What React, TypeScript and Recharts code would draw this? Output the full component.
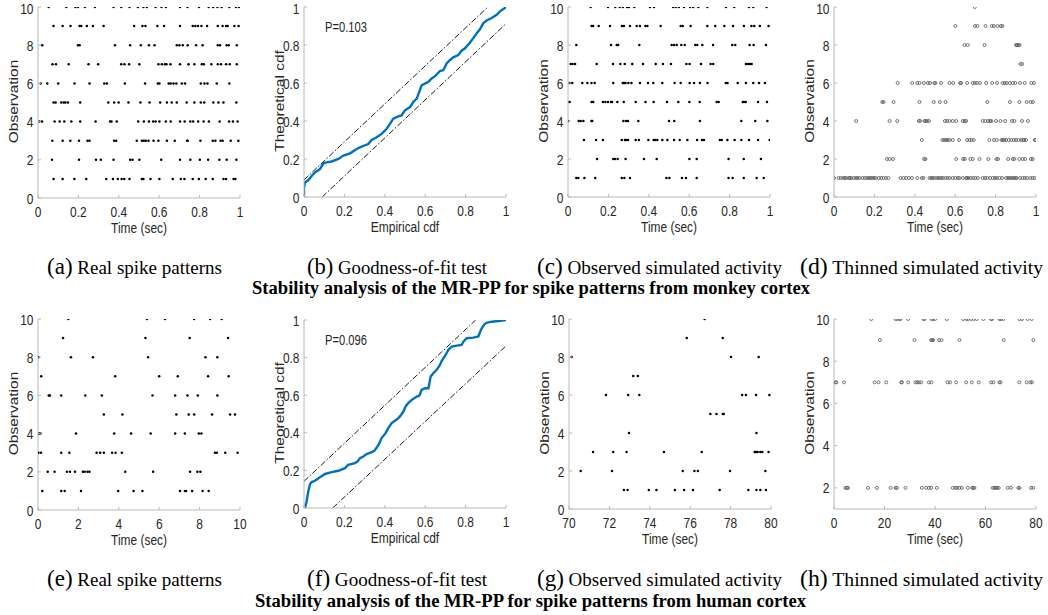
import React from 'react';
import { ScatterChart, Scatter, XAxis, YAxis, ComposedChart, Line } from 'recharts';

// ---------------- DATA ----------------
const unitTicks = [0, 0.2, 0.4, 0.6, 0.8, 1];
const obsTicks = [0, 2, 4, 6, 8, 10];
const obsTicksThinnedHuman = [2, 4, 6, 8, 10];
const humanRealTicks = [0, 2, 4, 6, 8, 10];
const humanObservedTicks = [70, 72, 74, 76, 78, 80];
const humanThinnedTicks = [0, 20, 40, 60, 80];

// (a) monkey real spikes, rows = observation 1..10
const monkeyRealSpikes: number[][] = [
  [0.077, 0.122, 0.18, 0.239, 0.338, 0.371, 0.395, 0.414, 0.427, 0.453, 0.514, 0.522, 0.557, 0.601, 0.667, 0.707, 0.725, 0.766, 0.796, 0.83, 0.865, 0.918, 0.931, 0.968, 0.977],
  [0.069, 0.203, 0.287, 0.311, 0.374, 0.456, 0.468, 0.502, 0.61, 0.703, 0.754, 0.801, 0.842, 0.898, 0.934, 0.982],
  [0.071, 0.122, 0.16, 0.203, 0.245, 0.255, 0.377, 0.387, 0.489, 0.514, 0.524, 0.534, 0.547, 0.572, 0.596, 0.638, 0.677, 0.738, 0.741, 0.804, 0.865, 0.878, 0.904, 0.914, 0.954, 0.992],
  [0.007, 0.02, 0.082, 0.107, 0.13, 0.165, 0.209, 0.285, 0.357, 0.364, 0.39, 0.496, 0.524, 0.549, 0.57, 0.582, 0.601, 0.633, 0.657, 0.703, 0.726, 0.754, 0.768, 0.793, 0.82, 0.846, 0.899, 0.946, 0.965, 0.988],
  [0.077, 0.087, 0.115, 0.127, 0.135, 0.148, 0.209, 0.348, 0.377, 0.399, 0.448, 0.507, 0.552, 0.605, 0.638, 0.662, 0.687, 0.736, 0.774, 0.806, 0.823, 0.868, 0.893, 0.918, 0.982],
  [0.013, 0.046, 0.1, 0.181, 0.255, 0.328, 0.341, 0.43, 0.53, 0.593, 0.601, 0.647, 0.657, 0.671, 0.685, 0.712, 0.728, 0.806, 0.824, 0.839, 0.885, 0.947],
  [0.072, 0.089, 0.152, 0.25, 0.298, 0.412, 0.428, 0.451, 0.502, 0.596, 0.613, 0.628, 0.636, 0.656, 0.703, 0.745, 0.774, 0.811, 0.821, 0.858, 0.89, 0.906, 0.931, 0.949, 0.984],
  [0.021, 0.198, 0.206, 0.381, 0.456, 0.509, 0.549, 0.577, 0.687, 0.7, 0.717, 0.741, 0.783, 0.815, 0.89, 0.901, 0.934, 0.944, 0.984],
  [0.077, 0.122, 0.161, 0.206, 0.214, 0.242, 0.272, 0.325, 0.476, 0.517, 0.532, 0.591, 0.624, 0.703, 0.766, 0.779, 0.792, 0.809, 0.837, 0.89, 0.914, 0.931, 0.939, 0.972, 0.993],
  [0.053, 0.14, 0.185, 0.198, 0.232, 0.282, 0.374, 0.412, 0.453, 0.494, 0.522, 0.539, 0.582, 0.611, 0.633, 0.703, 0.74, 0.797, 0.845, 0.867, 0.888, 0.909, 0.947, 0.98, 0.995],
];

// (b) monkey goodness-of-fit [empirical, theoretical]
const monkeyCdfCurve: number[][] = [
  [0, 0], [0, 0.049], [0.005, 0.077], [0.021, 0.088], [0.038, 0.111], [0.054, 0.129], [0.079, 0.147], [0.096, 0.177],
  [0.112, 0.182], [0.137, 0.187], [0.17, 0.2], [0.195, 0.218], [0.228, 0.23], [0.261, 0.253], [0.285, 0.265], [0.318, 0.279],
  [0.335, 0.3], [0.36, 0.314], [0.384, 0.332], [0.409, 0.359], [0.426, 0.385], [0.442, 0.412], [0.467, 0.424], [0.483, 0.429],
  [0.5, 0.456], [0.525, 0.473], [0.541, 0.5], [0.558, 0.518], [0.574, 0.562], [0.582, 0.588], [0.599, 0.597], [0.616, 0.606],
  [0.632, 0.624], [0.649, 0.636], [0.673, 0.663], [0.69, 0.668], [0.706, 0.703], [0.723, 0.721], [0.739, 0.735], [0.764, 0.747],
  [0.78, 0.77], [0.797, 0.783], [0.822, 0.813], [0.838, 0.836], [0.855, 0.862], [0.871, 0.883], [0.888, 0.915], [0.904, 0.929],
  [0.929, 0.942], [0.954, 0.959], [0.97, 0.977], [0.987, 0.989], [1, 1],
];
const monkeyUpperBand: number[][] = [[0, 0.09], [0.91, 1]];
const monkeyLowerBand: number[][] = [[0.09, 0], [1, 0.912]];

// (c) monkey observed simulated activity
const monkeyObservedSim: number[][] = [
  [0.041, 0.051, 0.081, 0.135, 0.266, 0.279, 0.307, 0.487, 0.502, 0.564, 0.584, 0.637, 0.795, 0.815, 0.87, 0.934, 0.969],
  [0.144, 0.224, 0.233, 0.246, 0.285, 0.376, 0.439, 0.601, 0.637, 0.795, 0.87, 0.955],
  [0.079, 0.139, 0.173, 0.266, 0.282, 0.289, 0.297, 0.335, 0.351, 0.398, 0.424, 0.432, 0.442, 0.467, 0.492, 0.525, 0.553, 0.591, 0.639, 0.663, 0.673, 0.752, 0.761, 0.789, 0.825, 0.858, 0.896, 0.941, 0.998],
  [0.0, 0.053, 0.063, 0.076, 0.116, 0.12, 0.274, 0.287, 0.297, 0.348, 0.5, 0.526, 0.653, 0.858, 0.927, 0.987],
  [0.008, 0.117, 0.125, 0.173, 0.185, 0.198, 0.213, 0.218, 0.244, 0.276, 0.335, 0.384, 0.424, 0.49, 0.546, 0.601, 0.652, 0.736, 0.746, 0.865, 0.871, 0.88, 0.941, 0.985],
  [0.008, 0.021, 0.071, 0.096, 0.116, 0.132, 0.224, 0.271, 0.277, 0.285, 0.299, 0.314, 0.356, 0.396, 0.422, 0.467, 0.528, 0.558, 0.602, 0.624, 0.653, 0.691, 0.781, 0.79, 0.84, 0.881, 0.917, 0.946, 0.975],
  [0.013, 0.023, 0.035, 0.142, 0.223, 0.259, 0.281, 0.318, 0.371, 0.434, 0.47, 0.51, 0.586, 0.602, 0.658, 0.706, 0.719, 0.881, 0.891, 0.901, 0.909],
  [0.041, 0.213, 0.241, 0.248, 0.353, 0.513, 0.525, 0.538, 0.561, 0.578, 0.63, 0.64, 0.665, 0.718, 0.813, 0.828, 0.899, 0.919, 0.98],
  [0.117, 0.124, 0.152, 0.208, 0.267, 0.277, 0.307, 0.34, 0.356, 0.383, 0.393, 0.459, 0.558, 0.568, 0.607, 0.69, 0.729, 0.774, 0.817, 0.871, 0.908, 0.922, 0.95, 0.993],
  [0.112, 0.198, 0.234, 0.256, 0.272, 0.292, 0.302, 0.328, 0.406, 0.426, 0.52, 0.533, 0.549, 0.574, 0.604, 0.62, 0.645, 0.69, 0.782, 0.823, 0.896, 0.917, 0.983],
];

// (d) monkey thinned simulated activity
const monkeyThinnedSim: number[][] = [
  [0.0, 0.023, 0.033, 0.046, 0.054, 0.061, 0.074, 0.079, 0.086, 0.099, 0.11, 0.117, 0.127, 0.142, 0.153, 0.165, 0.173, 0.181, 0.189, 0.198, 0.206, 0.222, 0.234, 0.245, 0.257, 0.27, 0.329, 0.344, 0.357, 0.371, 0.386, 0.412, 0.435, 0.443, 0.473, 0.481, 0.489, 0.499, 0.511, 0.519, 0.53, 0.539, 0.552, 0.562, 0.572, 0.588, 0.601, 0.613, 0.621, 0.638, 0.654, 0.659, 0.666, 0.677, 0.69, 0.7, 0.712, 0.736, 0.748, 0.759, 0.773, 0.786, 0.797, 0.806, 0.819, 0.832, 0.852, 0.862, 0.871, 0.881, 0.89, 0.898, 0.904, 0.921, 0.934, 0.944, 0.956, 0.972, 0.983, 0.993],
  [0.262, 0.275, 0.292, 0.446, 0.453, 0.605, 0.639, 0.647, 0.675, 0.687, 0.72, 0.764, 0.804, 0.812, 0.862, 0.885, 0.893, 0.918, 0.934, 0.947, 0.975, 0.984],
  [0.435, 0.537, 0.545, 0.555, 0.563, 0.572, 0.588, 0.619, 0.659, 0.671, 0.681, 0.692, 0.769, 0.792, 0.806, 0.829, 0.835, 0.842, 0.852, 0.865, 0.878, 0.89, 0.901, 0.914, 0.927, 0.937, 0.941, 0.951, 0.994, 0.997],
  [0.11, 0.275, 0.313, 0.42, 0.427, 0.448, 0.453, 0.46, 0.47, 0.549, 0.56, 0.572, 0.588, 0.605, 0.638, 0.647, 0.654, 0.736, 0.749, 0.763, 0.773, 0.779, 0.802, 0.824, 0.847, 0.881, 0.893, 0.931, 0.96],
  [0.239, 0.245, 0.295, 0.423, 0.494, 0.524, 0.552, 0.759, 0.871, 0.918, 0.954, 0.974, 0.985],
  [0.315, 0.387, 0.412, 0.423, 0.445, 0.465, 0.476, 0.497, 0.502, 0.53, 0.572, 0.59, 0.624, 0.629, 0.659, 0.687, 0.697, 0.708, 0.723, 0.753, 0.783, 0.807, 0.835, 0.845, 0.855, 0.871, 0.885, 0.898, 0.921, 0.944, 0.977, 0.99],
  [0.923, 0.932],
  [0.646, 0.662, 0.745, 0.901, 0.906, 0.913, 0.918],
  [0.601, 0.698, 0.71, 0.75, 0.781, 0.791, 0.809, 0.826, 0.834],
  [0.697],
];

// (e) human real spikes (sec)
const humanRealSpikes: number[][] = [
  [0.21, 1.15, 1.32, 2.13, 3.97, 4.73, 5.17, 7.03, 7.27, 7.33, 7.63, 8.15, 8.45],
  [0.48, 0.82, 1.43, 1.58, 1.83, 2.22, 2.31, 2.45, 2.55, 4.32, 5.7, 7.53, 7.89, 8.04],
  [0.02, 0.15, 1.15, 1.55, 2.9, 3.08, 3.26, 3.67, 3.84, 4.15, 8.76, 8.85, 9.27, 9.88],
  [0.05, 0.12, 1.88, 3.77, 4.61, 5.58, 6.79, 7.27, 7.96, 8.09],
  [3.26, 4.18, 6.85, 7.46, 7.73, 8.62, 9.51, 9.75],
  [0.53, 0.59, 1.15, 2.34, 3.16, 5.67, 6.79, 7.4, 7.91, 8.88],
  [0.16, 3.82, 6.0, 6.92, 8.42, 9.44],
  [0.02, 1.63, 2.72, 5.45, 8.29, 8.88],
  [1.24, 5.32, 7.51, 9.41],
  [1.5, 5.39, 6.29, 7.73, 8.52, 9.09],
];

// (f) human goodness-of-fit [empirical, theoretical]
const humanCdfCurve: number[][] = [
  [0.005, 0], [0.013, 0.035], [0.021, 0.088], [0.03, 0.127], [0.038, 0.138], [0.054, 0.145], [0.079, 0.163], [0.104, 0.181],
  [0.137, 0.191], [0.17, 0.198], [0.203, 0.212], [0.219, 0.23], [0.252, 0.239], [0.266, 0.248], [0.277, 0.265], [0.294, 0.274],
  [0.31, 0.287], [0.335, 0.297], [0.348, 0.304], [0.36, 0.322], [0.371, 0.34], [0.384, 0.372], [0.404, 0.398], [0.417, 0.425],
  [0.434, 0.452], [0.45, 0.464], [0.467, 0.478], [0.475, 0.487], [0.492, 0.513], [0.503, 0.54], [0.516, 0.558], [0.533, 0.575],
  [0.558, 0.593], [0.571, 0.598], [0.582, 0.628], [0.599, 0.637], [0.616, 0.637], [0.627, 0.699], [0.64, 0.717], [0.657, 0.735],
  [0.673, 0.761], [0.682, 0.783], [0.69, 0.796], [0.701, 0.814], [0.714, 0.841], [0.731, 0.858], [0.756, 0.864], [0.78, 0.867],
  [0.789, 0.885], [0.805, 0.903], [0.838, 0.906], [0.863, 0.912], [0.871, 0.935], [0.88, 0.956], [0.893, 0.977], [0.904, 0.985],
  [0.929, 0.991], [0.962, 0.995], [1, 1],
];
const humanUpperBand: number[][] = [[0, 0.142], [0.85, 1]];
const humanLowerBand: number[][] = [[0.142, 0], [1, 0.862]];

// (g) human observed simulated activity (sec)
const humanObservedSim: number[][] = [
  [72.72, 72.9, 73.95, 74.33, 75.24, 75.7, 76.14, 77.46, 78.88, 79.28, 79.47, 79.75],
  [70.58, 72.13, 75.63, 76.21, 76.38, 77.97, 79.72],
  [71.19, 72.19, 72.85, 74.7, 76.57, 79.19, 79.26, 79.34, 79.47, 79.57, 79.88],
  [72.97, 79.28],
  [77.0, 77.3, 77.61, 77.66],
  [71.83, 72.93, 73.48, 78.57, 78.76, 79.26, 79.92],
  [73.18, 73.41],
  [70.13, 78.02, 79.39],
  [75.83, 77.61],
  [76.71],
];

// (h) human thinned simulated activity (sec)
const humanThinnedSim: number[][] = [
  [],
  [4.48, 5.14, 5.54, 13.44, 17.0, 22.41, 24.38, 24.91, 28.34, 34.79, 36.51, 37.56, 38.48, 40.72, 47.05, 48.1, 48.76, 49.69, 50.61, 52.98, 54.69, 55.22, 55.62, 62.87, 63.52, 63.92, 64.58, 65.24, 68.8, 70.12, 73.02, 73.41, 78.03, 78.95],
  [],
  [],
  [],
  [],
  [0.66, 0.92, 3.95, 16.08, 17.66, 20.69, 26.62, 26.89, 29.39, 32.29, 32.95, 33.61, 34.53, 37.56, 38.62, 44.94, 45.99, 48.37, 52.32, 54.56, 57.33, 62.21, 63.13, 65.5, 65.9, 73.41, 76.31, 77.76, 78.42],
  [],
  [18.19, 31.89, 38.48, 38.88, 39.28, 41.65, 42.57, 49.69, 67.22, 78.95],
  [14.76, 24.38, 25.04, 25.96, 26.36, 29.39, 35.45, 35.85, 38.62, 39.28, 40.07, 44.68, 51.14, 52.46, 53.12, 54.3, 55.35, 56.54, 59.18, 62.21, 62.6, 65.5, 66.16, 67.08, 73.41, 74.47, 76.71, 78.29],
];

const captionsTop = ['(a)', 'Real spike patterns', '(b)', 'Goodness-of-fit test', '(c)', 'Observed simulated activity', '(d)', 'Thinned simulated activity'];
const captionsBottom = ['(e)', 'Real spike patterns', '(f)', 'Goodness-of-fit test', '(g)', 'Observed simulated activity', '(h)', 'Thinned simulated activity'];
const titleTop = 'Stability analysis of the MR-PP for spike patterns from monkey cortex';
const titleBottom = 'Stability analysis of the MR-PP for spike patterns from human cortex';

// ---------------- STYLE ----------------
const SANS = "'Liberation Sans', Arial, Helvetica, sans-serif";
const SERIF = "'Liberation Serif', 'Times New Roman', Times, serif";
const TXT = '#262626';
const AXIS = '#b8b8b8';
const SX = 0.77;
const FS = 15.5;

const fmt = (v: number) => String(Math.round(v * 1000) / 1000);

const XTick = (props: any) => {
  const { x, y, payload } = props;
  return (
    <g>
      <line x1={x} x2={x} y1={y} y2={y - 3} stroke={AXIS} strokeWidth={1} />
      <text transform={`translate(${x},${y + 18.7}) scale(${SX},1)`} textAnchor="middle" fontSize={FS} fontFamily={SANS} fill={TXT}>
        {fmt(payload.value)}
      </text>
    </g>
  );
};

// y tick labels; pageTop = page y of the chart's top, so the topmost label stays inside the page
const makeYTick = (pageTop: number) => (props: any) => {
  const { x, y, payload } = props;
  const base = Math.max(y + 5.5, 14.4 - pageTop);
  return (
    <g>
      <line x1={x} x2={x + 3} y1={y} y2={y} stroke={AXIS} strokeWidth={1} />
      <text transform={`translate(${x - 4.5},${base}) scale(${SX},1)`} textAnchor="end" fontSize={FS} fontFamily={SANS} fill={TXT}>
        {fmt(payload.value)}
      </text>
    </g>
  );
};

const SolidDot = (p: any) => <circle cx={p.cx} cy={p.cy} r={1.25} fill="#000" />;
const HollowDot = (p: any) => <circle cx={p.cx} cy={p.cy} r={1.5} fill="none" stroke="#555" strokeWidth={0.8} />;

type Box = [number, number, number, number];

const axisCommon = {
  type: 'number' as const,
  allowDataOverflow: true,
  interval: 0 as const,
  tickLine: false,
  tickSize: 0,
  tickMargin: 0,
  axisLine: { stroke: AXIS, strokeWidth: 1 },
};

function RasterPanel({ box, rows, xDomain, xTicks, yDomain, yTicks, hollow }: {
  box: Box; rows: number[][]; xDomain: [number, number]; xTicks: number[]; yDomain: [number, number]; yTicks: number[]; hollow?: boolean;
}) {
  const data = rows.flatMap((r, i) => r.map((t) => ({ x: t, y: i + 1 })));
  const w = box[2] - box[0];
  const h = box[3] - box[1];
  const top = box[1] - 10;
  return (
    <div style={{ position: 'absolute', left: box[0] - 40, top }}>
      <ScatterChart width={w + 50} height={h + 50} margin={{ top: 10, right: 10, bottom: 10, left: 10 }}>
        <XAxis {...axisCommon} dataKey="x" domain={xDomain} ticks={xTicks} height={30} tick={XTick} />
        <YAxis {...axisCommon} dataKey="y" domain={yDomain} ticks={yTicks} width={30} tick={makeYTick(top)} />
        <Scatter data={data} isAnimationActive={false} shape={hollow ? HollowDot : SolidDot} />
      </ScatterChart>
    </div>
  );
}

function CdfPanel({ box, curve, upper, lower }: { box: Box; curve: number[][]; upper: number[][]; lower: number[][] }) {
  const toXY = (arr: number[][]) => arr.map(([x, y]) => ({ x, y }));
  const w = box[2] - box[0];
  const h = box[3] - box[1];
  const top = box[1] - 10;
  return (
    <div style={{ position: 'absolute', left: box[0] - 40, top }}>
      <ComposedChart width={w + 50} height={h + 50} margin={{ top: 10, right: 10, bottom: 10, left: 10 }}>
        <XAxis {...axisCommon} dataKey="x" domain={[0, 1]} ticks={unitTicks} height={30} tick={XTick} />
        <YAxis {...axisCommon} dataKey="y" domain={[0, 1]} ticks={unitTicks} width={30} tick={makeYTick(top)} />
        <Line data={toXY(upper)} dataKey="y" type="linear" stroke="#000" strokeWidth={0.9} strokeDasharray="6 2 1.5 2" dot={false} activeDot={false} isAnimationActive={false} />
        <Line data={toXY(lower)} dataKey="y" type="linear" stroke="#000" strokeWidth={0.9} strokeDasharray="6 2 1.5 2" dot={false} activeDot={false} isAnimationActive={false} />
        <Line data={toXY(curve)} dataKey="y" type="linear" stroke="#0072BD" strokeWidth={2.4} dot={false} activeDot={false} isAnimationActive={false} />
      </ComposedChart>
    </div>
  );
}

const boxA: Box = [38, 7, 240, 198];
const boxB: Box = [304, 7, 506, 197];
const boxC: Box = [568, 7, 770, 197];
const boxD: Box = [834, 7, 1036, 197];
const boxE: Box = [38, 319, 240, 510];
const boxF: Box = [304, 320, 506, 508];
const boxG: Box = [569, 319, 771, 509];
const boxH: Box = [834, 319, 1036, 509];

function XTitle({ box, text }: { box: Box; text: string }) {
  const cx = (box[0] + box[2]) / 2;
  return (
    <text transform={`translate(${cx},${box[3] + 35}) scale(${SX},1)`} textAnchor="middle" fontSize={FS} fontFamily={SANS} fill={TXT}>
      {text}
    </text>
  );
}

function YTitle({ box, text }: { box: Box; text: string }) {
  const cy = (box[1] + box[3]) / 2 - 1;
  return (
    <text transform={`translate(${box[0] - 20.3},${cy}) rotate(-90) scale(1,${SX})`} textAnchor="middle" fontSize={FS} fontFamily={SANS} fill={TXT}>
      {text}
    </text>
  );
}

const capX = [47, 307, 537, 800];
const capW = [175, 180, 245, 243];

function Captions({ items, baseline, title, titleX, titleW, titleBaseline }: {
  items: string[]; baseline: number; title: string; titleX: number; titleW: number; titleBaseline: number;
}) {
  const out: React.ReactNode[] = [];
  for (let i = 0; i < 4; i++) {
    out.push(
      <text key={i} x={capX[i]} y={baseline} fontFamily={SERIF} fontSize={19} fill="#000" textLength={capW[i]} lengthAdjust="spacingAndGlyphs">
        <tspan fontSize={23}>{items[2 * i]}</tspan>
        <tspan> {items[2 * i + 1]}</tspan>
      </text>
    );
  }
  out.push(
    <text key="t" x={titleX} y={titleBaseline} fontFamily={SERIF} fontSize={18} fontWeight="bold" fill="#000" textLength={titleW} lengthAdjust="spacingAndGlyphs">
      {title}
    </text>
  );
  return <g>{out}</g>;
}

export default function App() {
  return (
    <div style={{ position: 'absolute', left: 0, top: 0, width: 1048, height: 615, background: '#fff', overflow: 'hidden' }}>
      <RasterPanel box={boxA} rows={monkeyRealSpikes} xDomain={[0, 1]} xTicks={unitTicks} yDomain={[0, 10]} yTicks={obsTicks} />
      <CdfPanel box={boxB} curve={monkeyCdfCurve} upper={monkeyUpperBand} lower={monkeyLowerBand} />
      <RasterPanel box={boxC} rows={monkeyObservedSim} xDomain={[0, 1]} xTicks={unitTicks} yDomain={[0, 10]} yTicks={obsTicks} />
      <RasterPanel box={boxD} rows={monkeyThinnedSim} xDomain={[0, 1]} xTicks={unitTicks} yDomain={[0, 10]} yTicks={obsTicks} hollow />
      <RasterPanel box={boxE} rows={humanRealSpikes} xDomain={[0, 10]} xTicks={humanRealTicks} yDomain={[0, 10]} yTicks={obsTicks} />
      <CdfPanel box={boxF} curve={humanCdfCurve} upper={humanUpperBand} lower={humanLowerBand} />
      <RasterPanel box={boxG} rows={humanObservedSim} xDomain={[70, 80]} xTicks={humanObservedTicks} yDomain={[0, 10]} yTicks={obsTicks} />
      <RasterPanel box={boxH} rows={humanThinnedSim} xDomain={[0, 80]} xTicks={humanThinnedTicks} yDomain={[1, 10]} yTicks={obsTicksThinnedHuman} hollow />

      <svg width={1048} height={615} style={{ position: 'absolute', left: 0, top: 0, pointerEvents: 'none' }}>
        <XTitle box={boxA} text="Time (sec)" />
        <XTitle box={boxB} text="Empirical cdf" />
        <XTitle box={boxC} text="Time (sec)" />
        <XTitle box={boxD} text="Time (sec)" />
        <XTitle box={boxE} text="Time (sec)" />
        <XTitle box={boxF} text="Empirical cdf" />
        <XTitle box={boxG} text="Time (sec)" />
        <XTitle box={boxH} text="Time (sec)" />
        <YTitle box={boxA} text="Observation" />
        <YTitle box={boxB} text="Theoretical cdf" />
        <YTitle box={boxC} text="Observation" />
        <YTitle box={boxD} text="Observation" />
        <YTitle box={boxE} text="Observation" />
        <YTitle box={boxF} text="Theoretical cdf" />
        <YTitle box={boxG} text="Observation" />
        <YTitle box={boxH} text="Observation" />
        <text transform={`translate(325,31.5) scale(${SX},1)`} fontSize={14.5} fontFamily={SANS} fill={TXT}>P=0.103</text>
        <text transform={`translate(325,344.5) scale(${SX},1)`} fontSize={14.5} fontFamily={SANS} fill={TXT}>P=0.096</text>
        <Captions items={captionsTop} baseline={274} title={titleTop} titleX={252} titleW={558} titleBaseline={294} />
        <Captions items={captionsBottom} baseline={586} title={titleBottom} titleX={255} titleW={551} titleBaseline={607} />
      </svg>
    </div>
  );
}
